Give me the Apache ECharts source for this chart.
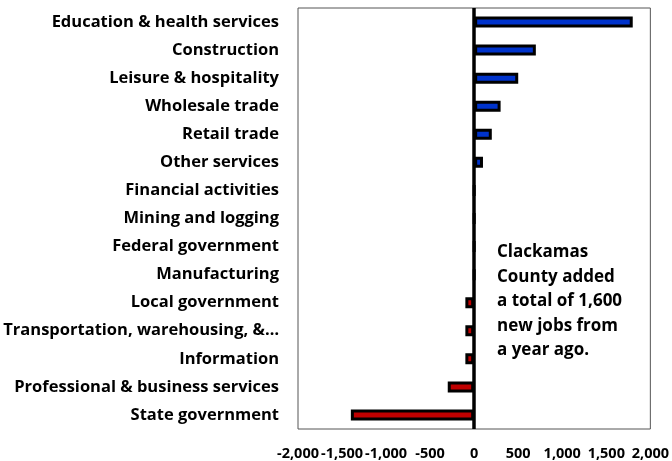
<!DOCTYPE html>
<html>
<head>
<meta charset="utf-8">
<script src="https://cdn.jsdelivr.net/npm/echarts@6/dist/echarts.min.js"></script>
<style>html,body{margin:0;padding:0;background:#fff;}#c{width:672px;height:461px;}</style>
</head>
<body>
<div id="c"></div>
<script>
const categories = [
  "Education & health services",
  "Construction",
  "Leisure & hospitality",
  "Wholesale trade",
  "Retail trade",
  "Other services",
  "Financial activities",
  "Mining and logging",
  "Federal government",
  "Manufacturing",
  "Local government",
  "Transportation, warehousing, &…",
  "Information",
  "Professional & business services",
  "State government"
];
const values = [1800, 700, 500, 300, 200, 100, 0, 0, 0, 0, -100, -100, -100, -300, -1400];
const axisMin = -2000, axisMax = 2000, axisStep = 500;
const noteText = "Clackamas\nCounty added\na total of 1,600\nnew jobs from\na year ago.";

const FONT = "Open Sans";
const chart = echarts.init(document.getElementById('c'), null, {renderer: 'canvas'});
function fmt(v) {
  const s = Math.abs(v).toString().replace(/\B(?=(\d{3})+(?!\d))/g, ',');
  return (v < 0 ? '-' : '') + s;
}
chart.setOption({
  animation: false,
  backgroundColor: '#fff',
  grid: {left: 298, right: 20, top: 8, bottom: 32, show: true, borderColor: '#555', borderWidth: 1, backgroundColor: 'transparent'},
  xAxis: {
    type: 'value', min: axisMin, max: axisMax, interval: axisStep,
    axisLine: {show: false}, axisTick: {show: false}, splitLine: {show: false},
    axisLabel: {formatter: fmt, color: '#000', fontFamily: FONT, fontWeight: 'bold', fontSize: 14.5, margin: 17,
                showMinLabel: true, showMaxLabel: true, hideOverlap: false}
  },
  yAxis: {
    type: 'category', data: categories, inverse: true,
    axisLine: {show: false}, axisTick: {show: false}, splitLine: {show: false},
    axisLabel: {color: '#000', fontFamily: FONT, fontWeight: 'bold', fontSize: 16.5, margin: 19}
  },
  series: [{
    type: 'bar',
    barWidth: 11,
    data: values.map(v => ({value: v, itemStyle: {color: v >= 0 ? '#0033CC' : '#C00000'}})),
    itemStyle: {borderColor: '#000', borderWidth: 3},
    markLine: {
      silent: true, symbol: 'none', label: {show: false},
      lineStyle: {color: '#000', width: 3.5, type: 'solid'},
      data: [{xAxis: 0}]
    }
  }],
  graphic: [{
    type: 'text', left: 497, top: 240, z: 10,
    style: {text: noteText, font: 'bold 17px "' + FONT + '"', fill: '#000', lineHeight: 24.5}
  }]
});
</script>
</body>
</html>
